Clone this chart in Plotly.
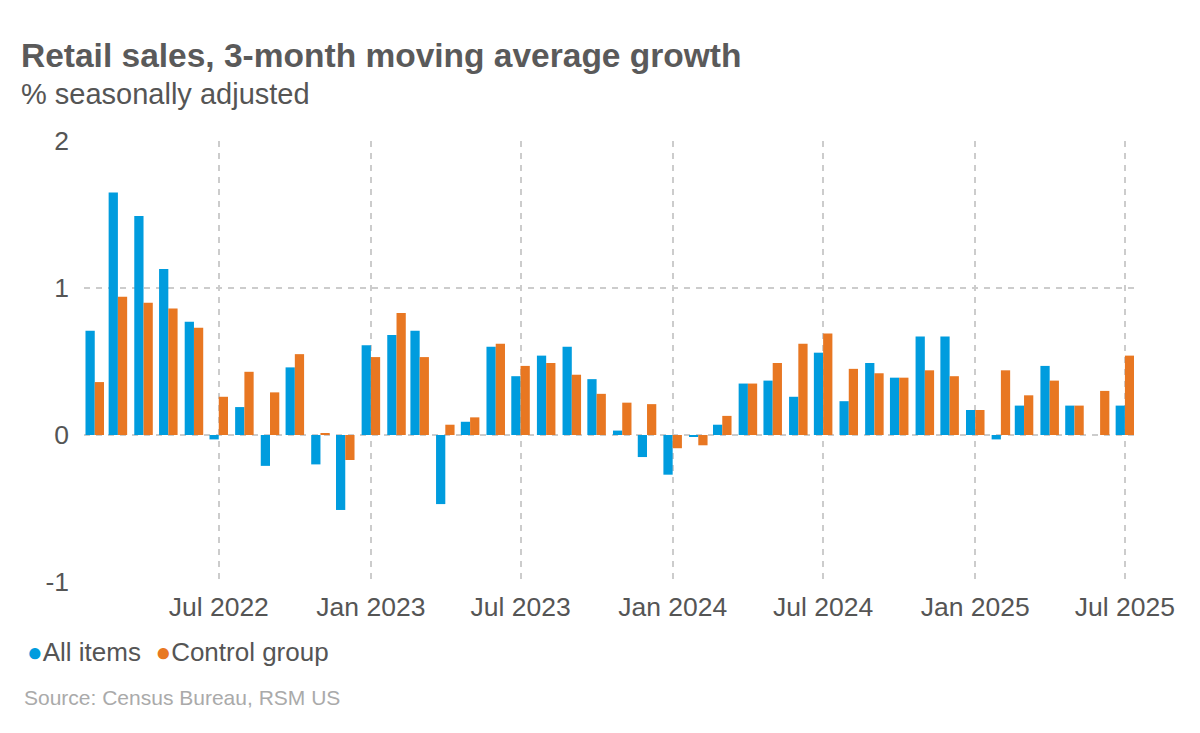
import plotly.graph_objects as go

# Meses (inicio de mes), feb 2022 - jul 2025
months = [
    "2022-02-01", "2022-03-01", "2022-04-01", "2022-05-01", "2022-06-01", "2022-07-01",
    "2022-08-01", "2022-09-01", "2022-10-01", "2022-11-01", "2022-12-01", "2023-01-01",
    "2023-02-01", "2023-03-01", "2023-04-01", "2023-05-01", "2023-06-01", "2023-07-01",
    "2023-08-01", "2023-09-01", "2023-10-01", "2023-11-01", "2023-12-01", "2024-01-01",
    "2024-02-01", "2024-03-01", "2024-04-01", "2024-05-01", "2024-06-01", "2024-07-01",
    "2024-08-01", "2024-09-01", "2024-10-01", "2024-11-01", "2024-12-01", "2025-01-01",
    "2025-02-01", "2025-03-01", "2025-04-01", "2025-05-01", "2025-06-01", "2025-07-01",
]

all_items = [
    0.71, 1.65, 1.49, 1.13, 0.77, -0.03, 0.19, -0.21, 0.46, -0.20, -0.51, 0.61,
    0.68, 0.71, -0.47, 0.09, 0.60, 0.40, 0.54, 0.60, 0.38, 0.03, -0.15, -0.27,
    -0.01, 0.07, 0.35, 0.37, 0.26, 0.56, 0.23, 0.49, 0.39, 0.67, 0.67, 0.17,
    -0.03, 0.20, 0.47, 0.20, 0.00, 0.20,
]

control_group = [
    0.36, 0.94, 0.90, 0.86, 0.73, 0.26, 0.43, 0.29, 0.55, 0.01, -0.17, 0.53,
    0.83, 0.53, 0.07, 0.12, 0.62, 0.47, 0.49, 0.41, 0.28, 0.22, 0.21, -0.09,
    -0.07, 0.13, 0.35, 0.49, 0.62, 0.69, 0.45, 0.42, 0.39, 0.44, 0.40, 0.17,
    0.44, 0.27, 0.37, 0.20, 0.30, 0.54,
]

y_tickvals = [-1, 0, 1, 2]
y_ticktext = ["-1", "0", "1", "2"]

BLUE = "#009cde"
ORANGE = "#e87722"
FONT = "Liberation Sans, Arial, sans-serif"

fig = go.Figure()

fig.add_trace(go.Bar(x=months, y=all_items, name="All items",
                     marker=dict(color=BLUE, line=dict(width=0))))
fig.add_trace(go.Bar(x=months, y=control_group, name="Control group",
                     marker=dict(color=ORANGE, line=dict(width=0))))

# leyenda a mano: círculo pegado al texto
legend_text = (f"<span style='color:{BLUE}'>●</span>All items  "
               f"<span style='color:{ORANGE}'>●</span>Control group")

fig.update_layout(
    width=1200, height=733,
    paper_bgcolor="white", plot_bgcolor="white",
    font=dict(family=FONT, color="#555555", size=26),
    # la página tiene 8px de margen en el body
    margin=dict(l=76, r=74, t=133, b=159),
    barmode="group", bargap=0.2, bargroupgap=0,
    showlegend=False,
    annotations=[
        dict(text="<b>Retail sales, 3-month moving average growth</b>",
             xref="paper", yref="paper", x=-0.062, y=1.195, xanchor="left", yanchor="middle",
             showarrow=False, font=dict(size=33.5, color="#5a5a5a")),
        dict(text="% seasonally adjusted",
             xref="paper", yref="paper", x=-0.062, y=1.107, xanchor="left", yanchor="middle",
             showarrow=False, font=dict(size=29, color="#555555")),
        dict(text=legend_text,
             xref="paper", yref="paper", x=-0.056, y=-0.159, xanchor="left", yanchor="middle",
             showarrow=False, font=dict(size=26, color="#555555")),
        dict(text="Source: Census Bureau, RSM US",
             xref="paper", yref="paper", x=-0.059, y=-0.263, xanchor="left", yanchor="middle",
             showarrow=False, font=dict(size=21, color="#aaaaaa")),
    ],
)

fig.update_xaxes(
    type="date", range=["2022-01-19", "2025-07-12"],
    tick0="2022-07-01", dtick="M6", tickformat="%b %Y",
    showgrid=True, gridcolor="#cccccc", gridwidth=1.5, griddash="6px,6px",
    showline=False, zeroline=False, ticks="", ticklabelstandoff=6,
    tickfont=dict(size=26.5, color="#555555"),
)
fig.update_yaxes(
    range=[-1, 2], tickvals=y_tickvals, ticktext=y_ticktext,
    showgrid=True, gridcolor="#cccccc", gridwidth=1.5, griddash="6px,6px",
    showline=False, zeroline=False, ticks="", ticklabelstandoff=14,
    tickfont=dict(size=26.5, color="#555555"),
)

fig.write_html("out.html")
